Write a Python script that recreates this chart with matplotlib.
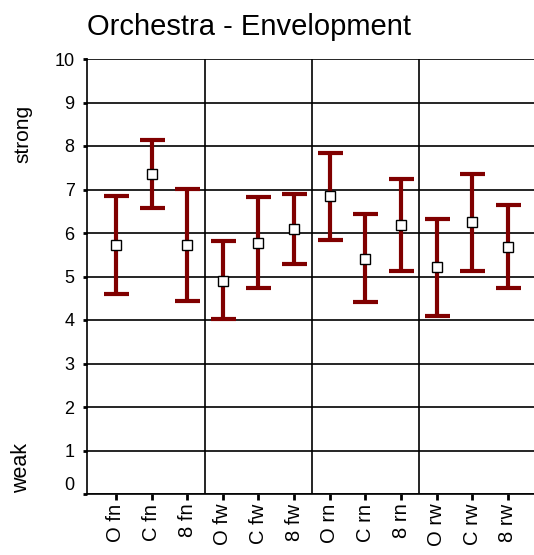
import matplotlib.pyplot as plt
import numpy as np

plt.rcParams['font.family'] = ['Liberation Sans', 'DejaVu Sans']

# datos
labels = ["O fn", "C fn", "8 fn", "O fw", "C fw", "8 fw",
          "O rn", "C rn", "8 rn", "O rw", "C rw", "8 rw"]
media = [5.72, 7.36, 5.72, 4.90, 5.77, 6.09, 6.85, 5.40, 6.18, 5.22, 6.25, 5.68]
superior = [6.85, 8.14, 7.01, 5.82, 6.83, 6.90, 7.84, 6.44, 7.24, 6.32, 7.36, 6.64]
inferior = [4.60, 6.57, 4.44, 4.02, 4.74, 5.29, 5.84, 4.41, 5.13, 4.09, 5.13, 4.74]
separadores = [2.5, 5.5, 8.5]

x = np.arange(len(labels))
media = np.array(media)
err = [media - np.array(inferior), np.array(superior) - media]

fig = plt.figure(figsize=(5.34, 5.55), dpi=100)
ax = fig.add_axes([87/534, 61/555, 1 - 87/534, 435/555])

for yv in range(0, 11):
    ax.axhline(yv, color='black', lw=1.2, zorder=1)
for s in separadores:
    ax.axvline(s, color='black', lw=1.2, zorder=1)

ax.errorbar(x, media, yerr=err, fmt='none', ecolor='#800000',
            elinewidth=3, capsize=9, capthick=3, zorder=2)
ax.plot(x, media, 's', mfc='white', mec='black', ms=7, mew=1, zorder=3)

ax.set_xlim(-0.81, 11.73)
ax.set_ylim(0, 10)
ax.set_yticks(range(0, 11))
ax.set_xticks(x)
ax.set_xticklabels(labels, rotation=90, fontsize=14.5)
ax.tick_params(axis='y', labelsize=13, length=3, width=2, pad=6)
ax.tick_params(axis='x', length=4, width=2, pad=3)
# el 0 queda un poco por encima de su marca
ax.get_yticklabels()[0].set_va('bottom')
for sp in ['top', 'right']:
    ax.spines[sp].set_visible(False)
ax.spines['left'].set_linewidth(1.2)
ax.spines['bottom'].set_linewidth(1.2)

ax.set_title("Orchestra - Envelopment", loc='left', fontsize=21, pad=17)
fig.text(23/534, 1 - 134/555, "strong", rotation=90, ha='center', va='center', fontsize=15)
fig.text(22/534, 1 - 468/555, "weak", rotation=90, ha='center', va='center', fontsize=15.5)

fig.savefig("out.png", dpi=100)
